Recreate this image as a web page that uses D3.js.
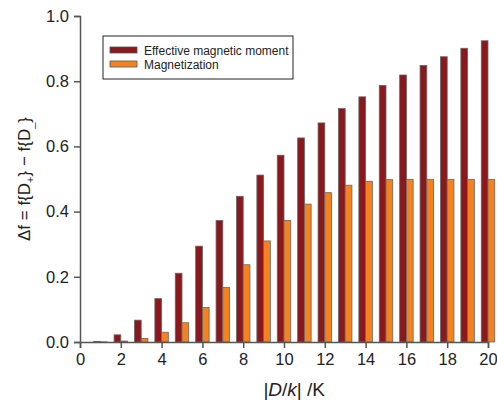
<!DOCTYPE html>
<html>
<head>
<meta charset="utf-8">
<script src="https://cdn.jsdelivr.net/npm/d3@7"></script>
<style>
  body { margin: 0; background: #fff; }
  svg { font-family: "Liberation Sans", Arial, sans-serif; }
  .axis path, .axis line { stroke: #555; stroke-width: 1.5px; }
  .axis text { font-size: 16.5px; fill: #222; }
</style>
</head>
<body>
<div id="chart"></div>
<script>
// |D/k| values
var dk = [1, 2, 3, 4, 5, 6, 7, 8, 9, 10, 11, 12, 13, 14, 15, 16, 17, 18, 19, 20];
// effective magnetic moment
var effMoment = [0.002, 0.022, 0.067, 0.133, 0.211, 0.294, 0.373, 0.447, 0.512, 0.573,
  0.626, 0.672, 0.716, 0.752, 0.787, 0.819, 0.848, 0.875, 0.901, 0.924];
// magnetization
var magnetization = [0.0005, 0.003, 0.011, 0.030, 0.059, 0.106, 0.167, 0.237, 0.310, 0.373,
  0.423, 0.458, 0.481, 0.493, 0.498, 0.499, 0.499, 0.499, 0.499, 0.499];
var xTicks = [0, 2, 4, 6, 8, 10, 12, 14, 16, 18, 20];
var yTicks = [0, 0.2, 0.4, 0.6, 0.8, 1.0];
var seriesNames = ['Effective magnetic moment', 'Magnetization'];
var colors = ['#8b181c', '#f5821f'];

var width = 497, height = 402;
var margin = { left: 80, top: 16, right: 9, bottom: 60 };
var w = width - margin.left - margin.right;
var h = height - margin.top - margin.bottom;

var x = d3.scaleLinear().domain([0, 20]).range([0, w]);
var y = d3.scaleLinear().domain([0, 1]).range([h, 0]);

var svg = d3.select('#chart')
  .append('svg')
  .attr('width', width)
  .attr('height', height)
  .append('g')
  .attr('transform', 'translate(' + margin.left + ',' + margin.top + ')');

var bw = 0.33;

// dark bars (left of tick)
svg.selectAll('.bar-eff')
  .data(dk)
  .enter().append('rect')
  .attr('class', 'bar-eff')
  .attr('x', function(d) { return x(d - bw); })
  .attr('width', x(bw) - x(0))
  .attr('y', function(d, i) { return y(effMoment[i]); })
  .attr('height', function(d, i) { return y(0) - y(effMoment[i]); })
  .attr('fill', colors[0])
  .attr('stroke', '#666')
  .attr('stroke-width', 0.8);

// orange bars (right of tick)
svg.selectAll('.bar-mag')
  .data(dk)
  .enter().append('rect')
  .attr('class', 'bar-mag')
  .attr('x', function(d) { return x(d); })
  .attr('width', x(bw) - x(0))
  .attr('y', function(d, i) { return y(magnetization[i]); })
  .attr('height', function(d, i) { return y(0) - y(magnetization[i]); })
  .attr('fill', colors[1])
  .attr('stroke', '#666')
  .attr('stroke-width', 0.8);

// axes
var xAxis = d3.axisBottom(x).tickValues(xTicks).tickFormat(d3.format('d')).tickSizeOuter(0).tickSize(6).tickPadding(5);
svg.append('g')
  .attr('class', 'axis')
  .attr('transform', 'translate(0,' + h + ')')
  .call(xAxis);

var yAxis = d3.axisLeft(y).tickValues(yTicks).tickFormat(d3.format('.1f')).tickSizeOuter(0).tickSize(6).tickPadding(5);
svg.append('g')
  .attr('class', 'axis')
  .call(yAxis);

// x title
var xt = svg.append('text')
  .attr('x', x(10.5))
  .attr('y', h + 54)
  .attr('text-anchor', 'middle')
  .style('font-size', '19px')
  .attr('fill', '#222');
xt.append('tspan').text('|');
xt.append('tspan').style('font-style', 'italic').text('D');
xt.append('tspan').text('/');
xt.append('tspan').style('font-style', 'italic').text('k');
xt.append('tspan').text('| /K');

// y title
var yt = svg.append('text')
  .attr('transform', 'translate(' + (-50) + ',' + y(0.5) + ') rotate(-90)')
  .attr('text-anchor', 'middle')
  .style('font-size', '17px')
  .attr('fill', '#222');
yt.append('tspan').text('\u0394f = f{D');
yt.append('tspan').attr('dy', 4).style('font-size', '11px').text('+');
yt.append('tspan').attr('dy', -4).text('} \u2212 f{D');
yt.append('tspan').attr('dy', 4).style('font-size', '11px').text('_');
yt.append('tspan').attr('dy', -4).text('}');

// legend
var lg = svg.append('g').attr('transform', 'translate(' + (103 - margin.left) + ',' + (36 - margin.top) + ')');
lg.append('rect')
  .attr('width', 190).attr('height', 43)
  .attr('fill', '#fff').attr('stroke', '#222').attr('stroke-width', 1);
seriesNames.forEach(function(name, i) {
  lg.append('rect')
    .attr('x', 7).attr('y', 11 + i * 14)
    .attr('width', 27).attr('height', 6)
    .attr('fill', colors[i]).attr('stroke', '#555').attr('stroke-width', 0.8);
  lg.append('text')
    .attr('x', 41).attr('y', 18.5 + i * 14)
    .style('font-size', '12px')
    .attr('fill', '#222')
    .text(name);
});
</script>
</body>
</html>
